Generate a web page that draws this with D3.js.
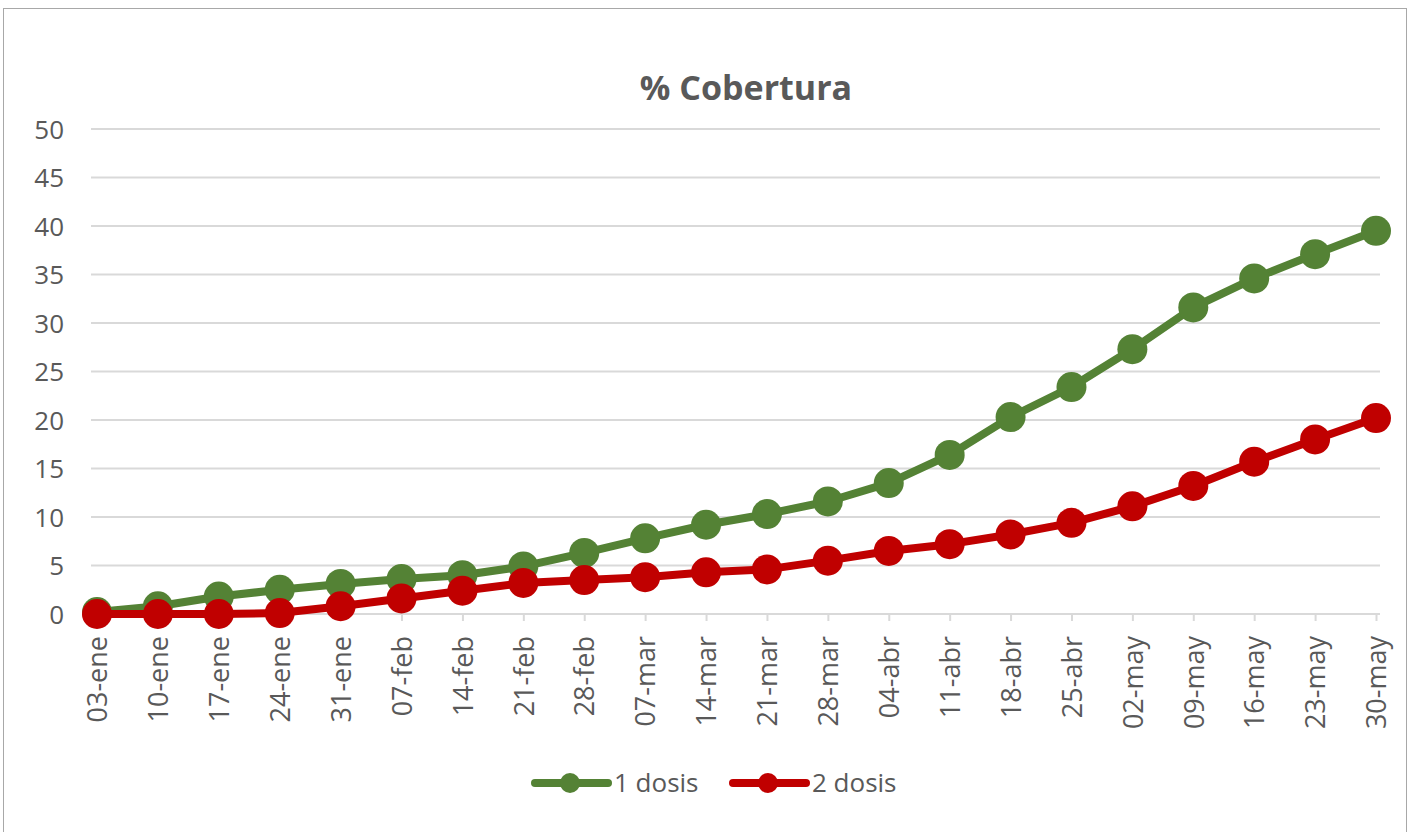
<!DOCTYPE html>
<html><head><meta charset="utf-8">
<script src="https://cdn.jsdelivr.net/npm/d3@7"></script>
<style>body{margin:0;background:#fff}svg{display:block}text{font-family:"Open Sans",Lato,sans-serif}</style>
</head><body><svg id="c" width="1410" height="832"></svg>
<script>
const categories = ["03-ene","10-ene","17-ene","24-ene","31-ene","07-feb","14-feb","21-feb","28-feb","07-mar","14-mar","21-mar","28-mar","04-abr","11-abr","18-abr","25-abr","02-may","09-may","16-may","23-may","30-may"];
const dosis1 = [0.2,0.8,1.8,2.5,3.1,3.6,4.0,4.9,6.3,7.8,9.2,10.3,11.6,13.5,16.4,20.3,23.4,27.3,31.6,34.6,37.1,39.5];
const dosis2 = [0,0,0,0.1,0.8,1.6,2.4,3.2,3.5,3.8,4.3,4.6,5.5,6.5,7.2,8.2,9.4,11.1,13.2,15.7,18.0,20.2];
const yTicks = [0,5,10,15,20,25,30,35,40,45,50];
const seriesNames = ["1 dosis","2 dosis"];
const colors = ["#548235","#C00000"];

const svg = d3.select("#c");
svg.append("rect").attr("x",3.5).attr("y",8.5).attr("width",1403).attr("height",830).attr("fill","#fff").attr("stroke","#a8a8a8").attr("stroke-width",1);

const x = d3.scalePoint().domain(categories).range([97,1376]);
const y = d3.scaleLinear().domain([0,50]).range([614,129]);
const gridX0 = 91, gridX1 = 1380;

// gridlines
svg.append("g").selectAll("line").data(yTicks.slice(1)).join("line")
  .attr("x1",gridX0).attr("x2",gridX1).attr("y1",d=>y(d)).attr("y2",d=>y(d))
  .attr("stroke","#d9d9d9").attr("stroke-width",2);

// y axis labels
const yAxis = d3.axisLeft(y).tickValues(yTicks).tickSize(0).tickPadding(0);
const gy = svg.append("g").attr("transform","translate(64,0)").call(yAxis);
gy.select(".domain").remove();
gy.selectAll("text").attr("font-size",26).attr("fill","#595959").attr("font-family","'Open Sans', sans-serif").attr("dy","0.35em");

// x axis
const xAxis = d3.axisBottom(x).tickSize(7).tickPadding(0);
const gx = svg.append("g").attr("transform","translate(0,614)").call(xAxis);
gx.select(".domain").attr("d",`M${gridX0},0H${gridX1}`).attr("stroke","#d9d9d9").attr("stroke-width",2);
gx.selectAll(".tick line").attr("stroke","#d9d9d9").attr("stroke-width",2);
gx.selectAll(".tick text").attr("font-size",27).attr("fill","#595959").attr("font-family","'Liberation Sans', Arial, sans-serif")
  .attr("transform","rotate(-90)").attr("text-anchor","end").attr("x",-22).attr("y",0).attr("dy","0.36em");

// title
svg.append("text").attr("x",746).attr("y",100).attr("text-anchor","middle").attr("font-size",34).attr("font-weight","bold").attr("fill","#595959").text("% Cobertura");

// lines
const line = d3.line().x((d,i)=>x(categories[i])).y(d=>y(d));
[dosis1,dosis2].forEach((s,k)=>{
  const g = svg.append("g");
  g.append("path").datum(s).attr("d",line).attr("fill","none").attr("stroke",colors[k]).attr("stroke-width",8).attr("stroke-linejoin","round");
  g.selectAll("circle").data(s).join("circle").attr("cx",(d,i)=>x(categories[i])).attr("cy",d=>y(d)).attr("r",15).attr("fill",colors[k]);
});

// legend
const legX = [533,731];
seriesNames.forEach((n,k)=>{
  const g = svg.append("g").attr("transform",`translate(${legX[k]},783)`);
  g.append("line").attr("x1",2).attr("x2",75).attr("y1",0).attr("y2",0).attr("stroke",colors[k]).attr("stroke-width",8).attr("stroke-linecap","round");
  g.append("circle").attr("cx",37).attr("cy",0).attr("r",10).attr("fill",colors[k]);
  g.append("text").attr("x",81).attr("y",0).attr("dy","0.35em").attr("font-size",26).attr("fill","#595959").text(n);
});
</script></body></html>
